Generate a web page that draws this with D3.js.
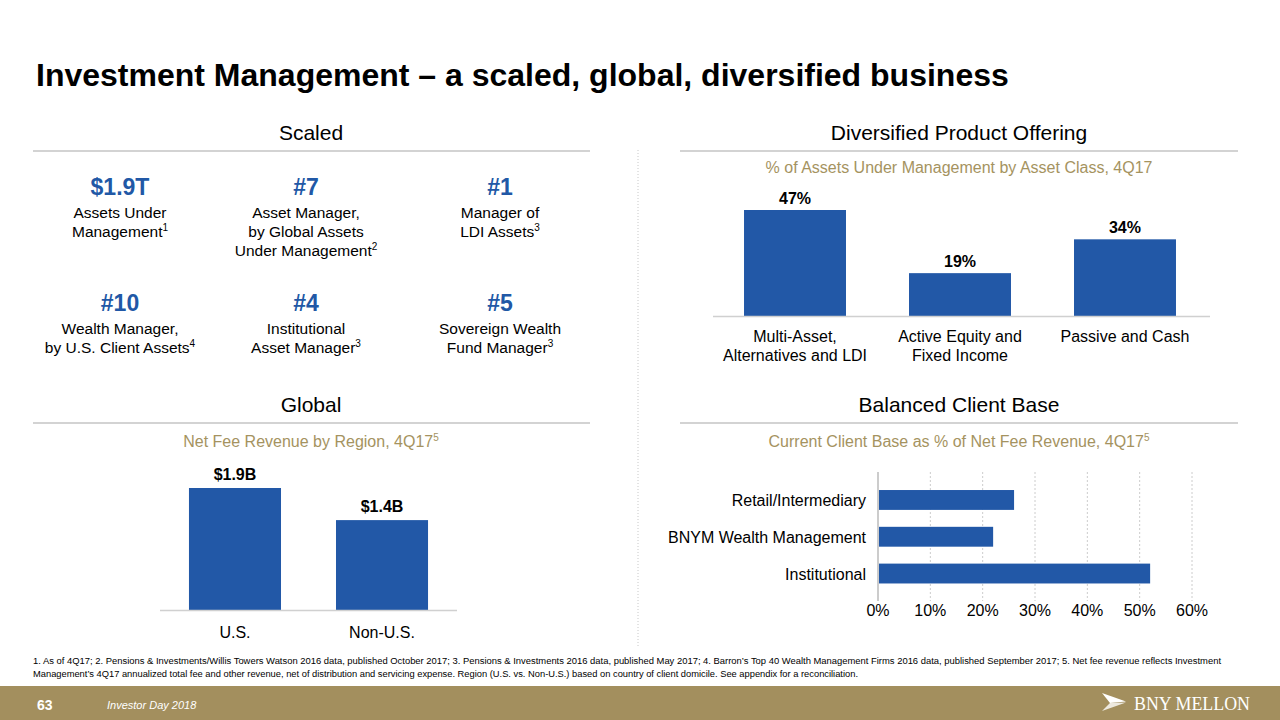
<!DOCTYPE html>
<html><head><meta charset="utf-8">
<script src="https://cdn.jsdelivr.net/npm/d3@7"></script>
<style>
body{margin:0;background:#fff;}
svg{display:block;font-family:"Liberation Sans",Arial,sans-serif;}
</style></head>
<body>
<svg id="c" width="1280" height="720"></svg>
<script>
// ---------- DATA ----------
const title = "Investment Management \u2013 a scaled, global, diversified business";
const statValues = ["$1.9T", "#7", "#1", "#10", "#4", "#5"];
const statLines = [
  ["Assets Under", "Management"],
  ["Asset Manager,", "by Global Assets", "Under Management"],
  ["Manager of", "LDI Assets"],
  ["Wealth Manager,", "by U.S. Client Assets"],
  ["Institutional", "Asset Manager"],
  ["Sovereign Wealth", "Fund Manager"]
];
const statNotes = ["1", "2", "3", "4", "3", "3"];

const productCategories = [["Multi-Asset,", "Alternatives and LDI"], ["Active Equity and", "Fixed Income"], ["Passive and Cash"]];
const productValues = [47, 19, 34];
const productLabels = ["47%", "19%", "34%"];

const regionCategories = ["U.S.", "Non-U.S."];
const regionValues = [1.9, 1.4];
const regionLabels = ["$1.9B", "$1.4B"];

const clientCategories = ["Retail/Intermediary", "BNYM Wealth Management", "Institutional"];
const clientValues = [0.26, 0.22, 0.52];
const clientTicks = [0, 0.1, 0.2, 0.3, 0.4, 0.5, 0.6];

const footnote1 = "1. As of 4Q17; 2. Pensions & Investments/Willis Towers Watson 2016 data, published October 2017; 3. Pensions & Investments 2016 data, published May 2017; 4. Barron\u2019s Top 40 Wealth Management Firms 2016 data, published September 2017; 5. Net fee revenue reflects Investment";
const footnote2 = "Management\u2019s 4Q17 annualized total fee and other revenue, net of distribution and servicing expense. Region (U.S. vs. Non-U.S.) based on country of client domicile. See appendix for a reconciliation.";

// ---------- STYLE ----------
const BLUE = "#2158A6";
const BAR = "#2258A7";
const TAN = "#A5935F";
const GOLD = "#A38F5E";
const RULE = "#C4C4C4";

const svg = d3.select("#c");

// Title
svg.append("text").attr("x", 36).attr("y", 86).attr("font-size", 32).attr("font-weight", "bold")
  .attr("fill", "#000").text(title);

// Section headers
function section(label, cx, y, x1, x2) {
  svg.append("text").attr("x", cx).attr("y", y).attr("text-anchor", "middle").attr("font-size", 21).attr("fill", "#000").text(label);
  svg.append("line").attr("x1", x1).attr("x2", x2).attr("y1", y + 11).attr("y2", y + 11).attr("stroke", RULE).attr("stroke-width", 1.5);
}
section("Scaled", 311, 140, 33, 590);
section("Diversified Product Offering", 959, 140, 680, 1238);
section("Global", 311, 412, 33, 590);
section("Balanced Client Base", 959, 412, 680, 1238);

// vertical divider
svg.append("line").attr("x1", 638).attr("x2", 638).attr("y1", 150).attr("y2", 646)
  .attr("stroke", "#C8C8C8").attr("stroke-width", 1).attr("stroke-dasharray", "1,2");

function subtitle(txt, note, cx, y) {
  const t = svg.append("text").attr("x", cx).attr("y", y).attr("text-anchor", "middle").attr("font-size", 16).attr("fill", TAN);
  t.append("tspan").text(txt);
  if (note) t.append("tspan").attr("font-size", 10).attr("dy", -6).text(note);
}
subtitle("% of Assets Under Management by Asset Class, 4Q17", null, 959, 173);
subtitle("Net Fee Revenue by Region, 4Q17", "5", 311, 447);
subtitle("Current Client Base as % of Net Fee Revenue, 4Q17", "5", 959, 447);

// ---------- STATS ----------
const statCx = [120, 306, 500];
const statRowY = [195, 311];
statValues.forEach((v, i) => {
  const cx = statCx[i % 3], y = statRowY[Math.floor(i / 3)];
  svg.append("text").attr("x", cx).attr("y", y).attr("text-anchor", "middle").attr("font-size", 23)
    .attr("font-weight", "bold").attr("fill", BLUE).text(v);
  statLines[i].forEach((ln, j) => {
    const t = svg.append("text").attr("x", cx).attr("y", y + 23 + j * 19).attr("text-anchor", "middle")
      .attr("font-size", 15.5).attr("fill", "#000");
    t.append("tspan").text(ln);
    if (j === statLines[i].length - 1) t.append("tspan").attr("font-size", 10).attr("dy", -6).text(statNotes[i]);
  });
});

// ---------- PRODUCT CHART ----------
{
  const x = d3.scaleBand().domain(d3.range(productValues.length)).range([713, 1207]).paddingInner(0.382).paddingOuter(0.188);
  const y = d3.scaleLinear().domain([0, 47]).range([316, 210]);
  const g = svg.append("g");
  g.selectAll("rect").data(productValues).join("rect")
    .attr("x", (d, i) => x(i)).attr("width", x.bandwidth())
    .attr("y", d => y(d)).attr("height", d => y(0) - y(d)).attr("fill", BAR);
  g.append("line").attr("x1", 713).attr("x2", 1210).attr("y1", y(0) + 0.5).attr("y2", y(0) + 0.5).attr("stroke", "#D0D0D0").attr("stroke-width", 1.5);
  g.selectAll("text.lab").data(productLabels).join("text").attr("class", "lab")
    .attr("x", (d, i) => x(i) + x.bandwidth() / 2).attr("y", (d, i) => y(productValues[i]) - 6)
    .attr("text-anchor", "middle").attr("font-size", 16).attr("font-weight", "bold").text(d => d);
  productCategories.forEach((lines, i) => {
    lines.forEach((ln, j) => {
      g.append("text").attr("x", x(i) + x.bandwidth() / 2).attr("y", y(0) + 26 + j * 19)
        .attr("text-anchor", "middle").attr("font-size", 16).text(ln);
    });
  });
}

// ---------- REGION CHART ----------
{
  const x = d3.scaleBand().domain(regionCategories).range([160, 457]).paddingInner(0.374).paddingOuter(0.197);
  const y = d3.scaleLinear().domain([0, 1.9]).range([610, 488]);
  const g = svg.append("g");
  g.selectAll("rect").data(regionValues).join("rect")
    .attr("x", (d, i) => x(regionCategories[i])).attr("width", x.bandwidth())
    .attr("y", d => y(d)).attr("height", d => y(0) - y(d)).attr("fill", BAR);
  g.append("line").attr("x1", 160).attr("x2", 457).attr("y1", y(0) + 0.5).attr("y2", y(0) + 0.5).attr("stroke", "#D0D0D0").attr("stroke-width", 1.5);
  g.selectAll("text.lab").data(regionLabels).join("text").attr("class", "lab")
    .attr("x", (d, i) => x(regionCategories[i]) + x.bandwidth() / 2).attr("y", (d, i) => y(regionValues[i]) - 8)
    .attr("text-anchor", "middle").attr("font-size", 16).attr("font-weight", "bold").text(d => d);
  g.selectAll("text.cat").data(regionCategories).join("text").attr("class", "cat")
    .attr("x", d => x(d) + x.bandwidth() / 2).attr("y", y(0) + 28)
    .attr("text-anchor", "middle").attr("font-size", 16).text(d => d);
}

// ---------- CLIENT CHART ----------
{
  const x = d3.scaleLinear().domain([0, 0.6]).range([878, 1192]);
  const y = d3.scaleBand().domain(clientCategories).range([472, 601.5]).paddingInner(0.46).paddingOuter(0.49);
  const g = svg.append("g");
  g.selectAll("line.grid").data(clientTicks.slice(1)).join("line").attr("class", "grid")
    .attr("x1", d => x(d)).attr("x2", d => x(d)).attr("y1", 472).attr("y2", 601)
    .attr("stroke", "#CCCCCC").attr("stroke-width", 1).attr("stroke-dasharray", "2,2");
  g.append("line").attr("x1", x(0)).attr("x2", x(0)).attr("y1", 472).attr("y2", 601).attr("stroke", "#BBBBBB").attr("stroke-width", 1.5);
  g.selectAll("rect").data(clientValues).join("rect")
    .attr("x", x(0) + 1).attr("y", (d, i) => y(clientCategories[i])).attr("height", y.bandwidth())
    .attr("width", d => x(d) - x(0) - 1).attr("fill", BAR);
  g.selectAll("text.cat").data(clientCategories).join("text").attr("class", "cat")
    .attr("x", 866).attr("y", d => y(d) + y.bandwidth() / 2 + 6)
    .attr("text-anchor", "end").attr("font-size", 16).text(d => d);
  const fmt = d3.format(".0%");
  g.selectAll("text.tick").data(clientTicks).join("text").attr("class", "tick")
    .attr("x", d => x(d)).attr("y", 616).attr("text-anchor", "middle").attr("font-size", 16).text(d => fmt(d));
}

// ---------- FOOTNOTES ----------
svg.append("text").attr("x", 33).attr("y", 664).attr("font-size", 9.2).attr("fill", "#000")
  .attr("font-family", "'Liberation Sans Narrow','Liberation Sans',Arial,sans-serif")
  .attr("textLength", 1188).attr("lengthAdjust", "spacingAndGlyphs").text(footnote1);
svg.append("text").attr("x", 33).attr("y", 677).attr("font-size", 9.2).attr("fill", "#000")
  .attr("font-family", "'Liberation Sans Narrow','Liberation Sans',Arial,sans-serif")
  .attr("textLength", 825).attr("lengthAdjust", "spacingAndGlyphs").text(footnote2);

// ---------- FOOTER BAND ----------
svg.append("rect").attr("x", 0).attr("y", 686).attr("width", 1280).attr("height", 34).attr("fill", GOLD);
svg.append("text").attr("x", 37).attr("y", 710).attr("font-size", 14).attr("font-weight", "bold").attr("fill", "#fff").text("63");
svg.append("text").attr("x", 107).attr("y", 709).attr("font-size", 11).attr("font-style", "italic").attr("fill", "#fff").text("Investor Day 2018");
// logo
svg.append("path").attr("d", "M1102,693 L1126,701.5 L1110,703 Z").attr("fill", "#fff");
svg.append("path").attr("d", "M1110,703 L1126,702.5 L1102,711 Z").attr("fill", "#fff").attr("opacity", 0.8);
svg.append("text").attr("x", 1134).attr("y", 710).attr("font-size", 19).attr("font-family", "'Liberation Serif','DejaVu Serif',serif")
  .attr("fill", "#fff").attr("textLength", 116).attr("lengthAdjust", "spacingAndGlyphs").text("BNY MELLON");
</script>
</body></html>
